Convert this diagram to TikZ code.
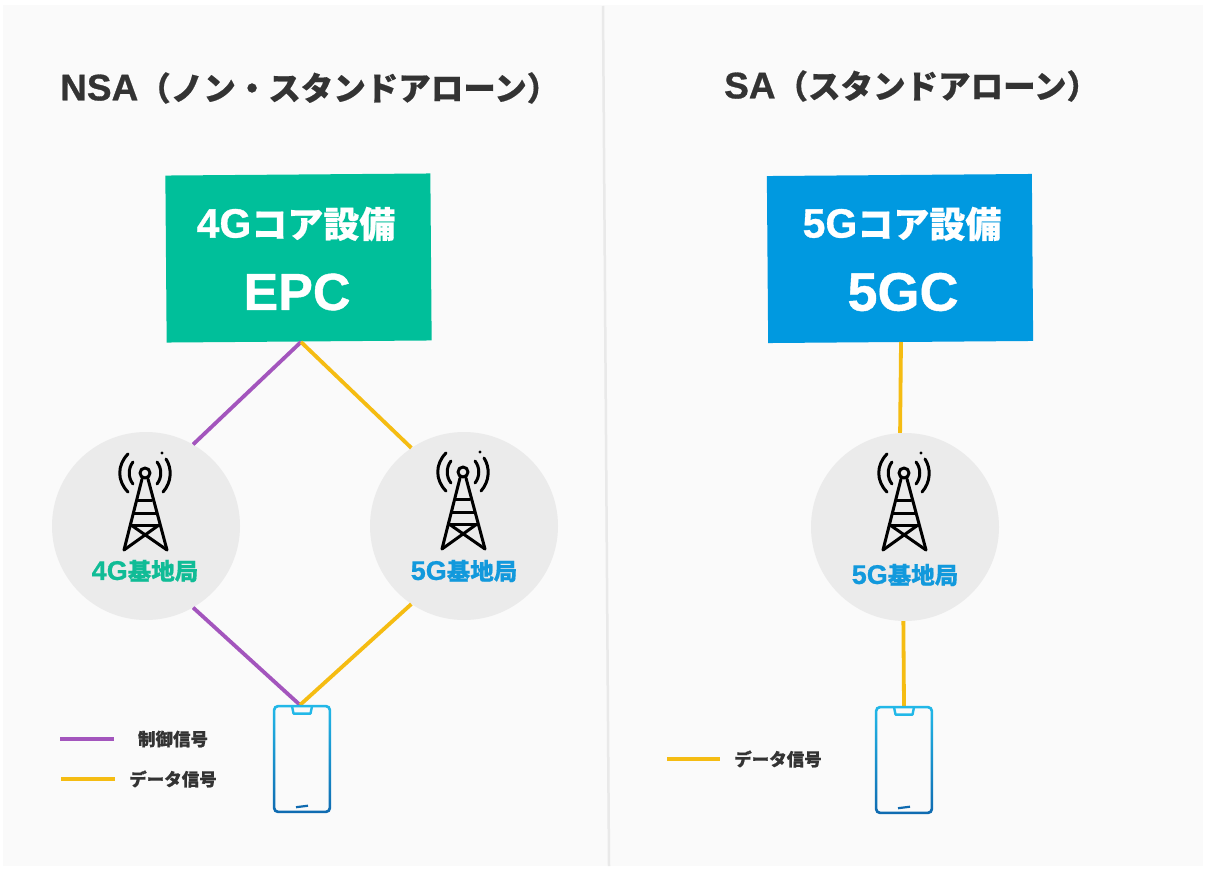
\documentclass[tikz,border=0pt]{standalone}
\usepackage{fontspec}
\setmainfont{Noto Sans CJK JP}[BoldFeatures={FakeBold=0.5}]
\newfontfamily\latfont{Liberation Sans}[BoldFeatures={FakeBold=0.8}]
\usetikzlibrary{calc}
\definecolor{panelbg}{HTML}{FAFAFA}
\definecolor{divider}{HTML}{E9E9E9}
\definecolor{titleink}{HTML}{333333}
\definecolor{epcgreen}{HTML}{00BF9A}
\definecolor{coreblue}{HTML}{0099E0}
\definecolor{stationgrey}{HTML}{EBEBEB}
\definecolor{ctrlpurple}{HTML}{A355BD}
\definecolor{datayellow}{HTML}{F5BC12}
\definecolor{greenlabel}{HTML}{10BC96}
\definecolor{bluelabel}{HTML}{1299DC}
\definecolor{phonetop}{HTML}{22B8E8}
\definecolor{phonemid}{HTML}{25C8E6}
\definecolor{phonebot}{HTML}{0F6AB0}
\newcommand{\lat}[2]{{\fontsize{#1}{#1}\selectfont\latfont\bfseries #2}}
\tikzset{
  x=1pt,y=-1pt,
  titletext/.style={font=\fontsize{32.5}{33}\selectfont\bfseries,text=titleink,anchor=west,inner sep=0},
  corebox/.style={minimum width=265pt,minimum height=167pt,inner sep=0,rotate=0.45},
  coreline/.style={font=\fontsize{36}{36}\selectfont\bfseries,text=white,inner sep=0},
  station/.style={circle,fill=stationgrey,minimum size=188pt,inner sep=0},
  stationtext/.style={font=\fontsize{23.5}{24}\selectfont\bfseries,inner sep=0},
  legendtext/.style={font=\fontsize{17.5}{18}\selectfont\bfseries,text=titleink,inner sep=0},
  ctrlline/.style={draw=ctrlpurple,line width=3.8pt},
  dataline/.style={draw=datayellow,line width=3.8pt},
  phonebody/.style={minimum width=58pt,minimum height=108pt,inner sep=0},
  pics/tower/.style={code={
    \begin{scope}[line width=3pt,black,line cap=round,line join=round]
      \draw (0,0) circle (5);
      \draw (-3,6) -- (-21,77) (3,6) -- (22,77);
      \draw (-7,27) -- (7,27) (-11,40) -- (11,40) (-14,52) -- (14,52);
      \draw (-14,52) -- (22,77) (14,52) -- (-21,77);
      \draw (-12,-11) .. controls (-17,-5) and (-17,5) .. (-12,11);
      \draw (12,-11) .. controls (17,-5) and (17,5) .. (12,11);
      \draw (-17,-19) .. controls (-28,-8) and (-28,8) .. (-17,19);
      \draw (21,-14) .. controls (27,-5) and (27,9) .. (18,19);
      \fill (17,-20) circle (1.6);
    \end{scope}
  }},
}
\begin{document}
\begin{tikzpicture}
\useasboundingbox (0,0) rectangle (1209,872);
\fill[white] (0,0) rectangle (1209,872);
\fill[panelbg] (3,5) rectangle (1203,866);
\draw[divider,line width=2.5pt] (603,6) -- (609,866);

\node[titletext] (nsatitle) at (60,88) {\lat{37}{NSA}（ノン・スタンドアローン）};
\node[titletext] (satitle) at (724,86) {\lat{37}{SA}（スタンドアローン）};

% left side
\node[corebox,fill=epcgreen] (epc) at (298.5,258) {};
\node[coreline] (epcl1) at (296,224) {\lat{41}{4G}コア設備};
\node[inner sep=0,text=white] (epcl2) at (297,292) {\lat{52}{EPC}};
\node[station] (c4) at (146,526) {};
\node[station] (c5l) at (464,526) {};
\pic at (145,473) {tower};
\pic at (463,472) {tower};
\node[stationtext,text=greenlabel] (l4) at (145,571) {\lat{27}{4G}基地局};
\node[stationtext,text=bluelabel] (l5) at (464,571) {\lat{27}{5G}基地局};
\node[phonebody] (ph1) at (302,759) {};
\coordinate (apex) at (301,342);
\coordinate (ph1top) at (300,705);
\draw[ctrlline] (apex) -- (c4.60);
\draw[dataline] (apex) -- (c5l.124);
\draw[ctrlline] (c4.-60) -- (ph1top);
\draw[dataline] (c5l.-124) -- (ph1top);

% legend
\coordinate (lg1a) at (60,739); \coordinate (lg1b) at (114,739);
\coordinate (lg2a) at (61,779); \coordinate (lg2b) at (115,779);
\draw[ctrlline] (lg1a) -- (lg1b);
\draw[dataline] (lg2a) -- (lg2b);
\node[legendtext] (lt1) at (173,739) {制御信号};
\node[legendtext] (lt2) at (173,779) {データ信号};

% right side
\node[corebox,fill=coreblue] (gc) at (900,258.5) {};
\node[coreline] (gcl1) at (902,224) {\lat{41}{5G}コア設備};
\node[inner sep=0,text=white] (gcl2) at (903,292) {\lat{54}{5GC}};
\node[station] (c5r) at (905,527) {};
\pic at (904,473) {tower};
\node[stationtext,text=bluelabel] (l5r) at (905,575) {\lat{27}{5G}基地局};
\node[phonebody] (ph2) at (904,760) {};
\coordinate (gcb) at (901,342);
\draw[dataline] (gcb) -- (c5r.93);
\draw[dataline] (c5r.-91) -- (ph2.north);
\coordinate (lg3a) at (667,759); \coordinate (lg3b) at (720,759);
\draw[dataline] (lg3a) -- (lg3b);
\node[legendtext] (lt3) at (778,759) {データ信号};

% phones
\foreach \p in {ph1,ph2}{
  \shade[top color=phonetop,middle color=phonemid,bottom color=phonebot,even odd rule]
    [rounded corners=5pt]
    ($(\p.south west)$) rectangle ($(\p.north east)$)
    [rounded corners=3pt]
    ($(\p.south west)+(2.6,-2.6)$) rectangle ($(\p.north east)+(-2.6,2.6)$);
  \draw[phonetop,line width=2.4pt,line join=round] ($(\p.north)+(-10,1.3)$) -- ($(\p.north)+(-8.5,8.8)$) -- ($(\p.north)+(8.5,8.8)$) -- ($(\p.north)+(10,1.3)$);
  \draw[phonebot,line width=2.2pt] ($(\p.south)+(-6,-6)$) -- ($(\p.south)+(6,-7.5)$);
}
\end{tikzpicture}
\end{document}
